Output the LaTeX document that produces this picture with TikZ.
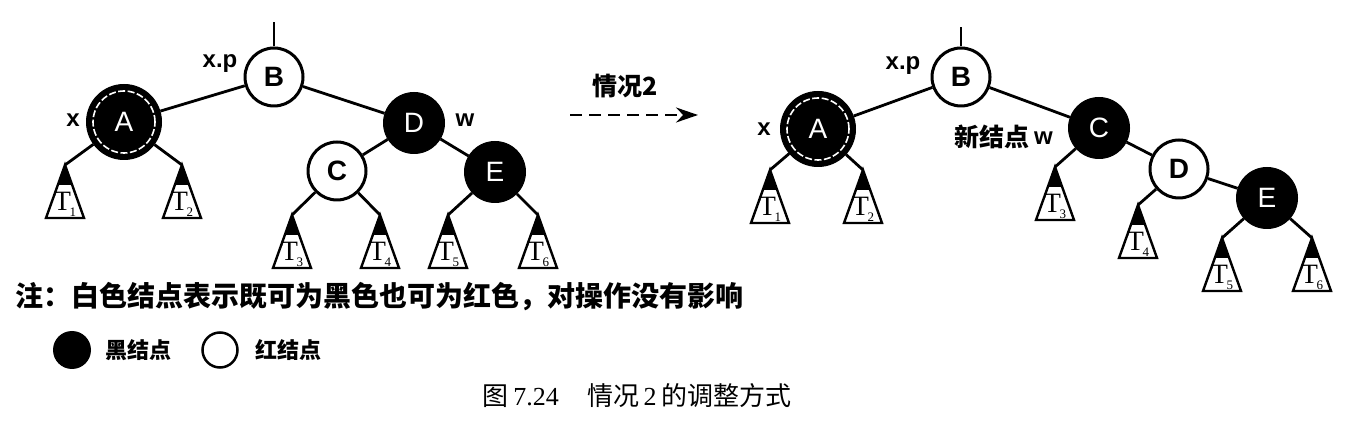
\documentclass[tikz,border=0pt]{standalone}
\usepackage{fontspec}
\setmainfont{Liberation Serif}
\newfontfamily\cjk{Noto Sans CJK SC}
\newfontfamily\lsans{Liberation Sans}
\usetikzlibrary{arrows.meta}
\tikzset{
  rb/.style={circle, draw=black, line width=3pt, fill=white, minimum size=58pt, inner sep=0pt,
    font=\lsans\bfseries\fontsize{28}{28}\selectfont},
  bb/.style={circle, fill=black, draw=black, line width=1pt, minimum size=61pt, inner sep=0pt, text=white,
    font=\lsans\fontsize{28}{28}\selectfont},
  xb/.style={bb, minimum size=75pt},
  lbl/.style={font=\lsans\bfseries\fontsize{24}{24}\selectfont, inner sep=0pt},
  cjklbl/.style={font=\cjk\bfseries\fontsize{25}{25}\selectfont, inner sep=0pt},
  leglbl/.style={font=\cjk\bfseries\fontsize{22}{22}\selectfont, inner sep=0pt},
  edge/.style={line width=2.8pt},
  tlab/.style={font=\fontsize{28}{28}\selectfont, inner sep=0pt},
}
\newcommand\subtr[4]{%
  \coordinate (#1) at (#2,#3);
  \fill (#1) -- ++(-7.5,20) -- ++(15,0) -- cycle;
  \draw[line width=2.4pt, line join=miter] (#1) -- ++(-19,53) -- ++(38,0) -- cycle;
  \node[tlab] (#1l) at ([xshift=0pt,yshift=-39pt]#1) {T\kern-1.5pt\raisebox{-6pt}{\fontsize{13}{13}\selectfont #4}};
}
\begin{document}
\begin{tikzpicture}[x=1pt,y=-1pt]
\path[use as bounding box] (0,0) rectangle (1360,427);
% ---------- left tree ----------
\node[rb] (B) at (274,77) {B};
\coordinate (Btop) at (274,22);
\node[xb] (A) at (124,122) {A};
\draw[white, line width=1.6pt, dash pattern=on 7pt off 2.5pt] (A.center) circle (31pt);
\node[bb] (D) at (414,123) {D};
\node[rb] (C) at (337,171) {C};
\node[bb] (E) at (495,172) {E};
\node[lbl] (xp) at (220,64) {x.p};
\node[lbl] (xl) at (73,120) {x};
\node[lbl] (wl) at (465,120) {w};
\subtr{t1}{65}{165}{1}
\subtr{t2}{182}{165}{2}
\subtr{t3}{292}{215}{3}
\subtr{t4}{380}{215}{4}
\subtr{t5}{448}{215}{5}
\subtr{t6}{538}{215}{6}
\begin{scope}[edge]
\draw (B) -- (Btop);
\draw (B) -- (A);
\draw (B) -- (D);
\draw (D) -- (C);
\draw (D) -- (E);
\draw (A) -- (t1);
\draw (A) -- (t2);
\draw (C) -- (t3);
\draw (C) -- (t4);
\draw (E) -- (t5);
\draw (E) -- (t6);
\end{scope}
% ---------- arrow ----------
\coordinate (arrS) at (570,115);
\coordinate (arrE) at (698,115);
\draw[line width=2.4pt, dash pattern=on 12pt off 7pt, -{Stealth[length=22pt,width=15pt]}] (arrS) -- (arrE);
\node[cjklbl] (case) at (625,86) {情况2};
% ---------- right tree ----------
\node[rb] (B2) at (961,77) {B};
\coordinate (B2top) at (961,27);
\node[xb] (A2) at (818,129) {A};
\draw[white, line width=1.6pt, dash pattern=on 7pt off 2.5pt] (A2.center) circle (31pt);
\node[bb] (C2) at (1099,128) {C};
\node[rb] (D2) at (1179,169) {D};
\node[bb] (E2) at (1267,198) {E};
\node[lbl] (xp2) at (903,66) {x.p};
\node[lbl] (xl2) at (764,129) {x};
\node[cjklbl, anchor=east] (newn) at (1030,137) {新结点};
\node[lbl, anchor=base west] (wl2) at (1034,145) {w};
\subtr{s1}{770}{170}{1}
\subtr{s2}{863}{170}{2}
\subtr{s3}{1055}{167}{3}
\subtr{s4}{1138}{205}{4}
\subtr{s5}{1222}{238}{5}
\subtr{s6}{1312}{238}{6}
\begin{scope}[edge]
\draw (B2) -- (B2top);
\draw (B2) -- (A2);
\draw (B2) -- (C2);
\draw (C2) -- (D2);
\draw (D2) -- (E2);
\draw (A2) -- (s1);
\draw (A2) -- (s2);
\draw (C2) -- (s3);
\draw (D2) -- (s4);
\draw (E2) -- (s5);
\draw (E2) -- (s6);
\end{scope}
% ---------- note and legend ----------
\node[font=\cjk\bfseries\fontsize{28}{28}\selectfont, inner sep=0pt, anchor=west] (note) at (15,297) {注：白色结点表示既可为黑色也可为红色，对操作没有影响};
\node[circle, fill=black, minimum size=38pt, inner sep=0pt] (lb) at (72,350) {};
\node[leglbl, anchor=west] (lbt) at (105,350) {黑结点};
\node[circle, draw=black, line width=2.5pt, minimum size=35pt, inner sep=0pt] (lr) at (220,350) {};
\node[leglbl, anchor=west] (lrt) at (255,350) {红结点};
\node[inner sep=0pt, font=\fontsize{26}{26}\selectfont] (cap) at (637,396)
  {{\cjk 图}\,7.24\hspace{1.1em}{\cjk 情况}\,2\,{\cjk 的调整方式}};
\end{tikzpicture}
\end{document}
